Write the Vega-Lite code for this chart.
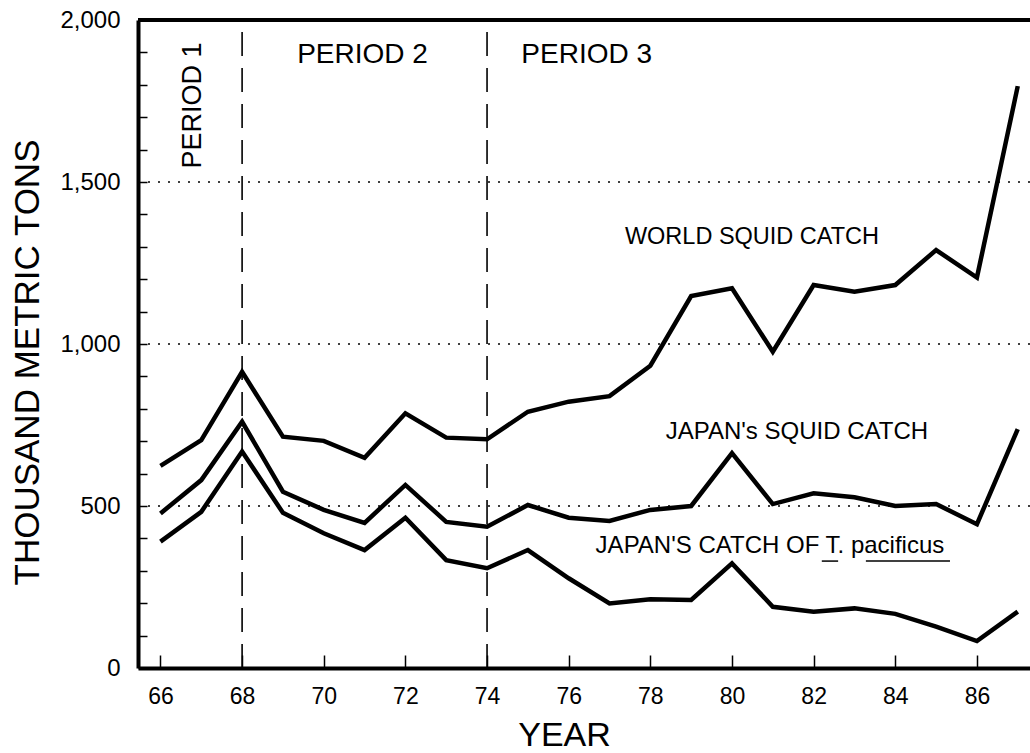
{
  "$schema": "https://vega.github.io/schema/vega-lite/v6.json",
  "autosize": "none",
  "width": 892,
  "height": 648,
  "padding": {"left": 138, "top": 20, "right": 0, "bottom": 85},
  "background": "white",
  "config": {
    "view": {"stroke": null},
    "font": "Liberation Sans",
    "axis": {"domainColor": "black", "domainWidth": 4, "tickColor": "black", "labelColor": "black", "titleColor": "black", "labelFont": "Liberation Sans", "titleFont": "Liberation Sans", "titleFontWeight": "normal", "grid": false, "labelOverlap": false}
  },
  "datasets": {
    "series": [
      {"yr": 66, "s": "World", "v": 624}, {"yr": 67, "s": "World", "v": 703}, {"yr": 68, "s": "World", "v": 914}, {"yr": 69, "s": "World", "v": 714},
      {"yr": 70, "s": "World", "v": 701}, {"yr": 71, "s": "World", "v": 649}, {"yr": 72, "s": "World", "v": 786}, {"yr": 73, "s": "World", "v": 711},
      {"yr": 74, "s": "World", "v": 706}, {"yr": 75, "s": "World", "v": 791}, {"yr": 76, "s": "World", "v": 822}, {"yr": 77, "s": "World", "v": 839},
      {"yr": 78, "s": "World", "v": 933}, {"yr": 79, "s": "World", "v": 1148}, {"yr": 80, "s": "World", "v": 1172}, {"yr": 81, "s": "World", "v": 976},
      {"yr": 82, "s": "World", "v": 1182}, {"yr": 83, "s": "World", "v": 1161}, {"yr": 84, "s": "World", "v": 1182}, {"yr": 85, "s": "World", "v": 1290},
      {"yr": 86, "s": "World", "v": 1205}, {"yr": 87, "s": "World", "v": 1796},
      {"yr": 66, "s": "Japan", "v": 477}, {"yr": 67, "s": "Japan", "v": 580}, {"yr": 68, "s": "Japan", "v": 760}, {"yr": 69, "s": "Japan", "v": 544},
      {"yr": 70, "s": "Japan", "v": 488}, {"yr": 71, "s": "Japan", "v": 448}, {"yr": 72, "s": "Japan", "v": 565}, {"yr": 73, "s": "Japan", "v": 451},
      {"yr": 74, "s": "Japan", "v": 436}, {"yr": 75, "s": "Japan", "v": 503}, {"yr": 76, "s": "Japan", "v": 464}, {"yr": 77, "s": "Japan", "v": 454},
      {"yr": 78, "s": "Japan", "v": 488}, {"yr": 79, "s": "Japan", "v": 500}, {"yr": 80, "s": "Japan", "v": 663}, {"yr": 81, "s": "Japan", "v": 506},
      {"yr": 82, "s": "Japan", "v": 539}, {"yr": 83, "s": "Japan", "v": 527}, {"yr": 84, "s": "Japan", "v": 500}, {"yr": 85, "s": "Japan", "v": 506},
      {"yr": 86, "s": "Japan", "v": 444}, {"yr": 87, "s": "Japan", "v": 737},
      {"yr": 66, "s": "Tpac", "v": 390}, {"yr": 67, "s": "Tpac", "v": 482}, {"yr": 68, "s": "Tpac", "v": 668}, {"yr": 69, "s": "Tpac", "v": 479},
      {"yr": 70, "s": "Tpac", "v": 416}, {"yr": 71, "s": "Tpac", "v": 364}, {"yr": 72, "s": "Tpac", "v": 464}, {"yr": 73, "s": "Tpac", "v": 333},
      {"yr": 74, "s": "Tpac", "v": 308}, {"yr": 75, "s": "Tpac", "v": 364}, {"yr": 76, "s": "Tpac", "v": 277}, {"yr": 77, "s": "Tpac", "v": 199},
      {"yr": 78, "s": "Tpac", "v": 212}, {"yr": 79, "s": "Tpac", "v": 210}, {"yr": 80, "s": "Tpac", "v": 323}, {"yr": 81, "s": "Tpac", "v": 189},
      {"yr": 82, "s": "Tpac", "v": 174}, {"yr": 83, "s": "Tpac", "v": 184}, {"yr": 84, "s": "Tpac", "v": 167}, {"yr": 85, "s": "Tpac", "v": 128},
      {"yr": 86, "s": "Tpac", "v": 83}, {"yr": 87, "s": "Tpac", "v": 174}
    ],
    "periods": [{"yr": 68, "v": 0, "v2": 2000}, {"yr": 74, "v": 0, "v2": 2000}],
    "grid": [{"v": 500}, {"v": 1000}, {"v": 1500}],
    "top": [{"v": 2000}],
    "periodLabels": [
      {"yr": 70.95, "v": 1892, "t": "PERIOD 2"},
      {"yr": 76.44, "v": 1892, "t": "PERIOD 3"}
    ],
    "labels": [
      {"yr": 80.49, "v": 1330, "t": "WORLD SQUID CATCH", "fs": 23.5},
      {"yr": 81.59, "v": 727, "t": "JAPAN's SQUID CATCH", "fs": 24},
      {"yr": 80.93, "v": 376, "t": "JAPAN'S CATCH OF T. pacificus", "fs": 24}
    ],
    "underline": [
      {"x1": 82.2, "x2": 82.6, "v": 330},
      {"x1": 83.28, "x2": 85.34, "v": 330}
    ]
  },
  "encoding": {
    "y": {"field": "v", "type": "quantitative", "scale": {"domain": [0, 2000], "nice": false},
      "axis": {"values": [0,100,200,300,400,500,600,700,800,900,1000,1100,1200,1300,1400,1500,1600,1700,1800,1900,2000],
               "labelExpr": "datum.value % 500 === 0 ? format(datum.value, ',') : ''",
               "labelOverlap": false,
               "tickSize": -9, "tickWidth": 1.5, "labelPadding": 27, "labelFontSize": 24, "labelBaseline": "middle",
               "title": "THOUSAND METRIC TONS", "titleFontSize": 35, "titleAngle": -90, "titleAlign": "center", "titleBaseline": "bottom", "titleX": -93, "titleY": 342}}
  },
  "layer": [
    {
      "data": {"name": "grid"},
      "mark": {"type": "rule", "color": "black", "strokeWidth": 1.6, "strokeDash": [2, 8]},
      "encoding": {}
    },
    {
      "data": {"name": "periods"},
      "mark": {"type": "rule", "color": "black", "strokeWidth": 1.6, "strokeDash": [24, 12]},
      "encoding": {
        "x": {"field": "yr", "type": "quantitative", "scale": {"domain": [65.45, 87.3], "nice": false, "zero": false},
          "axis": {"values": [66,68,70,72,74,76,78,80,82,84,86], "labelOverlap": false, "tickSize": -13, "tickWidth": 1.5, "labelPadding": 30, "labelFontSize": 23, "labelFlush": false,
                   "title": "YEAR", "titleFontSize": 34, "titleX": 426, "titleY": 67, "titleAlign": "center", "titleBaseline": "middle"}},
        "y2": {"field": "v2"}
      }
    },
    {
      "data": {"name": "top"},
      "mark": {"type": "rule", "color": "black", "strokeWidth": 4},
      "encoding": {}
    },
    {
      "data": {"name": "series"},
      "mark": {"type": "line", "color": "black", "strokeWidth": 4.5, "strokeJoin": "miter"},
      "encoding": {
        "x": {"field": "yr", "type": "quantitative"},
        "detail": {"field": "s"}
      }
    },
    {
      "data": {"values": [{"yr": 66.79, "v": 1736, "t": "PERIOD 1"}]},
      "mark": {"type": "text", "angle": -90, "fontSize": 27, "align": "center", "baseline": "middle", "color": "black"},
      "encoding": {
        "x": {"field": "yr", "type": "quantitative"},
        "text": {"field": "t"}
      }
    },
    {
      "data": {"name": "periodLabels"},
      "mark": {"type": "text", "fontSize": 28, "align": "center", "baseline": "middle", "color": "black"},
      "encoding": {
        "x": {"field": "yr", "type": "quantitative"},
        "text": {"field": "t"}
      }
    },
    {
      "data": {"name": "labels"},
      "mark": {"type": "text", "align": "center", "baseline": "middle", "color": "black"},
      "encoding": {
        "x": {"field": "yr", "type": "quantitative"},
        "text": {"field": "t"},
        "size": {"field": "fs", "type": "quantitative", "scale": null}
      }
    },
    {
      "data": {"name": "underline"},
      "mark": {"type": "rule", "color": "black", "strokeWidth": 1.5},
      "encoding": {
        "x": {"field": "x1", "type": "quantitative"},
        "x2": {"field": "x2"}
      }
    }
  ]
}
